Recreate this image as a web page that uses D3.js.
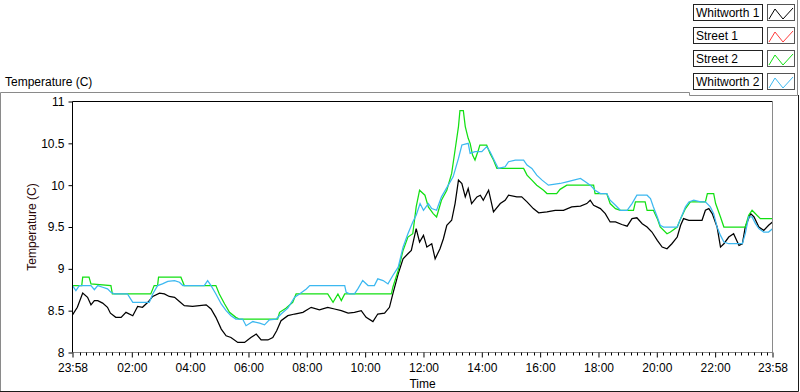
<!DOCTYPE html>
<html>
<head>
<meta charset="utf-8">
<script src="https://cdn.jsdelivr.net/npm/d3@7"></script>
<style>
  body { margin: 0; background: #fff; }
  svg { display: block; font-family: "Liberation Sans", Arial, sans-serif; font-size: 12px; }
</style>
</head>
<body>
<div id="chart"></div>
<script>
// legend entries, in plot order
var seriesNames = ["Whitworth 1", "Street 1", "Street 2", "Whitworth 2"];
var seriesColors = ["#000000", "#ff3c3c", "#12e012", "#3cb8f0"];

// readings as [minutes after midnight, temperature C]; -2 is 23:58 of the day before
var whitworth1 = [
  [-2, 8.45], [8, 8.54], [19, 8.71], [29, 8.66], [36, 8.57], [43, 8.62], [50, 8.62],
  [60, 8.59], [70, 8.54], [76, 8.47], [87, 8.42], [98, 8.42], [108, 8.48], [122, 8.44],
  [132, 8.55], [142, 8.54], [153, 8.60], [163, 8.67], [177, 8.71], [187, 8.70], [197, 8.67],
  [208, 8.66], [218, 8.61], [228, 8.56], [245, 8.55], [259, 8.56], [273, 8.57], [283, 8.52],
  [293, 8.42], [304, 8.28], [314, 8.20], [324, 8.18], [338, 8.12], [352, 8.12], [365, 8.18],
  [376, 8.22], [386, 8.15], [400, 8.15], [410, 8.18], [418, 8.26], [427, 8.38], [441, 8.44],
  [455, 8.46], [472, 8.48], [489, 8.54], [506, 8.51], [523, 8.54], [537, 8.52], [551, 8.50],
  [565, 8.47], [578, 8.48], [592, 8.50], [602, 8.42], [616, 8.37], [626, 8.46], [640, 8.47],
  [650, 8.54], [657, 8.70], [668, 8.94], [678, 9.12], [688, 9.18], [695, 9.22], [705, 9.48],
  [712, 9.32], [720, 9.40], [727, 9.26], [737, 9.30], [744, 9.12], [754, 9.24], [761, 9.36],
  [768, 9.52], [778, 9.58], [785, 9.78], [792, 10.06], [799, 10.02], [806, 9.86], [812, 9.96],
  [819, 9.78], [830, 9.86], [837, 9.88], [843, 9.82], [854, 9.94], [864, 9.68], [878, 9.78],
  [888, 9.82], [895, 9.88], [912, 9.86], [922, 9.86], [933, 9.80], [946, 9.72], [957, 9.67],
  [974, 9.68], [991, 9.70], [1008, 9.70], [1025, 9.74], [1043, 9.75], [1056, 9.78], [1063, 9.82],
  [1070, 9.76], [1084, 9.72], [1094, 9.66], [1104, 9.56], [1115, 9.56], [1128, 9.53], [1139, 9.51],
  [1149, 9.60], [1159, 9.61], [1170, 9.54], [1180, 9.50], [1190, 9.44], [1201, 9.34], [1211, 9.26],
  [1221, 9.24], [1231, 9.30], [1242, 9.38], [1249, 9.52], [1255, 9.60], [1266, 9.58], [1279, 9.58],
  [1293, 9.58], [1300, 9.70], [1307, 9.72], [1314, 9.66], [1324, 9.50], [1331, 9.26], [1338, 9.30],
  [1348, 9.38], [1358, 9.42], [1369, 9.28], [1376, 9.30], [1382, 9.50], [1393, 9.66], [1400, 9.62],
  [1410, 9.50], [1420, 9.46], [1430, 9.52], [1438, 9.56]
];
var street1 = []; // not visible in the picture
var street2 = [
  [-2, 8.8], [17, 8.8], [19, 8.9], [32, 8.9], [36, 8.82], [77, 8.8], [80, 8.7], [159, 8.7],
  [166, 8.8], [173, 8.8], [175, 8.9], [221, 8.9], [228, 8.8], [293, 8.8], [300, 8.7], [311, 8.58],
  [321, 8.48], [334, 8.42], [341, 8.4], [420, 8.4], [424, 8.48], [437, 8.53], [451, 8.6],
  [458, 8.7], [523, 8.7], [534, 8.6], [544, 8.7], [551, 8.62], [558, 8.7], [654, 8.7],
  [657, 8.78], [668, 8.98], [678, 9.22], [688, 9.38], [698, 9.42], [705, 9.74], [712, 9.94],
  [723, 9.88], [730, 9.74], [740, 9.66], [747, 9.62], [757, 9.82], [768, 9.94], [778, 10.14],
  [785, 10.42], [792, 10.70], [795, 10.89], [802, 10.89], [806, 10.70], [812, 10.56], [816, 10.50],
  [821, 10.36], [826, 10.30], [833, 10.42], [836, 10.48], [850, 10.48], [857, 10.38], [864, 10.30],
  [871, 10.2], [926, 10.2], [933, 10.12], [943, 10.06], [953, 10.0], [967, 9.94], [974, 9.9],
  [994, 9.9], [1001, 9.95], [1015, 10.0], [1070, 10.0], [1073, 9.9], [1097, 9.9], [1104, 9.78],
  [1115, 9.72], [1125, 9.7], [1152, 9.7], [1156, 9.8], [1176, 9.8], [1180, 9.7], [1193, 9.7],
  [1201, 9.6], [1207, 9.5], [1221, 9.42], [1228, 9.44], [1242, 9.5], [1249, 9.6], [1259, 9.72],
  [1269, 9.8], [1300, 9.8], [1304, 9.9], [1317, 9.9], [1321, 9.78], [1331, 9.62], [1338, 9.5],
  [1382, 9.5], [1389, 9.64], [1396, 9.7], [1406, 9.64], [1413, 9.6], [1438, 9.6]
];
var whitworth2 = [
  [-2, 8.8], [5, 8.74], [12, 8.8], [36, 8.8], [43, 8.75], [50, 8.8], [60, 8.78], [70, 8.76],
  [77, 8.72], [84, 8.7], [111, 8.7], [122, 8.6], [156, 8.6], [163, 8.7], [173, 8.8], [183, 8.82],
  [194, 8.85], [208, 8.86], [218, 8.84], [225, 8.8], [269, 8.8], [276, 8.86], [283, 8.8],
  [293, 8.7], [304, 8.58], [314, 8.5], [324, 8.44], [334, 8.4], [348, 8.4], [355, 8.32],
  [369, 8.37], [383, 8.35], [393, 8.33], [403, 8.39], [417, 8.4], [427, 8.46], [441, 8.53],
  [455, 8.66], [465, 8.7], [479, 8.76], [486, 8.8], [558, 8.8], [561, 8.72], [568, 8.7],
  [578, 8.7], [585, 8.76], [595, 8.86], [606, 8.8], [619, 8.8], [626, 8.88], [637, 8.86],
  [647, 8.82], [657, 8.92], [668, 9.02], [678, 9.26], [688, 9.42], [698, 9.56], [705, 9.64],
  [713, 9.78], [720, 9.70], [730, 9.78], [737, 9.72], [747, 9.70], [757, 9.86], [771, 10.0],
  [781, 10.10], [792, 10.32], [799, 10.48], [812, 10.5], [816, 10.38], [826, 10.4], [840, 10.4],
  [850, 10.46], [857, 10.4], [867, 10.28], [874, 10.2], [888, 10.22], [895, 10.28], [909, 10.3],
  [926, 10.3], [933, 10.24], [943, 10.2], [953, 10.12], [964, 10.06], [977, 10.0], [1001, 10.02],
  [1015, 10.04], [1029, 10.06], [1043, 10.08], [1053, 10.04], [1063, 10.0], [1073, 9.94],
  [1084, 9.9], [1097, 9.9], [1104, 9.82], [1115, 9.76], [1125, 9.7], [1139, 9.7], [1149, 9.78],
  [1159, 9.88], [1180, 9.88], [1187, 9.84], [1193, 9.74], [1201, 9.62], [1207, 9.52], [1214, 9.5],
  [1242, 9.5], [1249, 9.6], [1259, 9.74], [1266, 9.8], [1276, 9.82], [1290, 9.8], [1300, 9.8],
  [1310, 9.74], [1317, 9.66], [1324, 9.5], [1331, 9.40], [1338, 9.32], [1348, 9.3], [1376, 9.3],
  [1382, 9.42], [1389, 9.62], [1396, 9.62], [1403, 9.54], [1410, 9.48], [1420, 9.44], [1430, 9.44],
  [1438, 9.48]
];

// axis ticks
var timeTicks = [-2, 120, 240, 360, 480, 600, 720, 840, 960, 1080, 1200, 1320, 1438];
var timeLabels = ["23:58", "02:00", "04:00", "06:00", "08:00", "10:00", "12:00",
                  "14:00", "16:00", "18:00", "20:00", "22:00", "23:58"];
var tempTicks = [8, 8.5, 9, 9.5, 10, 10.5, 11];

var allSeries = [whitworth1, street1, street2, whitworth2];

var width = 800, height = 392;
var plot = {left: 72.5, top: 101.5, right: 772.5, bottom: 352.5};

var t0 = new Date(2000, 0, 2, 0, 0);
function toDate(m) { return new Date(t0.getTime() + m * 60000); }

var x = d3.scaleTime()
    .domain([toDate(timeTicks[0]), toDate(timeTicks[timeTicks.length - 1])])
    .range([plot.left, plot.right]);
var y = d3.scaleLinear().domain([8, 11]).range([plot.bottom, plot.top]);

var svg = d3.select("#chart").append("svg")
    .attr("width", width)
    .attr("height", height);

// outer panel frame (grey top/left, dark bottom/right)
svg.append("path")
    .attr("d", "M0.5,391 V92.5 H689.5 V95.5 H797.5 V0")
    .attr("fill", "none").attr("stroke", "#8a8a8a");
svg.append("path")
    .attr("d", "M798.5,95 V391.5 H0")
    .attr("fill", "none").attr("stroke", "#1a1a1a");

// graph label
svg.append("text")
    .attr("x", 5).attr("y", 86)
    .attr("fill", "#000")
    .text("Temperature (C)");

// the lines
var valueline = d3.line()
    .x(function(d) { return x(toDate(d[0])); })
    .y(function(d) { return y(d[1]); });

allSeries.forEach(function(s, i) {
    if (!s.length) return;
    svg.append("path")
        .datum(s)
        .attr("fill", "none")
        .attr("stroke", seriesColors[i])
        .attr("stroke-width", 1.25)
        .attr("d", valueline);
});

// plot border: dark top/left, grey right/bottom
svg.append("path")
    .attr("d", "M" + plot.left + "," + plot.bottom + " V" + plot.top + " H" + plot.right)
    .attr("fill", "none").attr("stroke", "#000");
svg.append("path")
    .attr("d", "M" + plot.right + "," + plot.top + " V" + plot.bottom + " H" + plot.left)
    .attr("fill", "none").attr("stroke", "#8a8a8a");

// x axis
var xAxis = svg.append("g")
    .attr("transform", "translate(0," + plot.bottom + ")")
    .call(d3.axisBottom(x)
        .tickValues(timeTicks.map(toDate))
        .tickFormat(function(d, i) { return timeLabels[i]; })
        .tickSize(5)
        .tickPadding(6));
xAxis.select(".domain").remove();
xAxis.attr("font-family", null).attr("font-size", null);
xAxis.selectAll("text").attr("fill", "#000");
xAxis.selectAll("line").attr("stroke", "#000");

// minor ticks: nine steps per two hours
var minorTicks = [];
for (var h = 0; h < 1440; h += 120) {
    for (var k = 1; k < 9; k++) minorTicks.push(h + k * 120 / 9);
}
svg.append("g").selectAll("line")
    .data(minorTicks)
    .enter().append("line")
    .attr("x1", function(d) { return Math.round(x(toDate(d))) + 0.5; })
    .attr("x2", function(d) { return Math.round(x(toDate(d))) + 0.5; })
    .attr("y1", plot.bottom)
    .attr("y2", plot.bottom + 3)
    .attr("stroke", "#000");

// y axis
var yAxis = svg.append("g")
    .attr("transform", "translate(" + plot.left + ",0)")
    .call(d3.axisLeft(y)
        .tickValues(tempTicks)
        .tickFormat(function(d) { return d; })
        .tickSize(4)
        .tickPadding(4));
yAxis.select(".domain").remove();
yAxis.attr("font-family", null).attr("font-size", null);
yAxis.selectAll("text").attr("fill", "#000");
yAxis.selectAll("line").attr("stroke", "#000");

// axis titles
svg.append("text")
    .attr("x", (plot.left + plot.right) / 2).attr("y", 388)
    .attr("text-anchor", "middle")
    .text("Time");
svg.append("text")
    .attr("transform", "translate(35.5," + (plot.top + plot.bottom) / 2 + ") rotate(-90)")
    .attr("text-anchor", "middle")
    .attr("fill", "#2a0808")
    .text("Temperature (C)");

// legend
var legend = svg.append("g").selectAll("g")
    .data(seriesNames)
    .enter().append("g")
    .attr("transform", function(d, i) { return "translate(0," + (4 + i * 23) + ")"; });
legend.append("rect")
    .attr("x", 693.5).attr("y", 0.5).attr("width", 69).attr("height", 16)
    .attr("fill", "#fff").attr("stroke", "#222");
legend.append("text")
    .attr("x", 696).attr("y", 13)
    .text(function(d) { return d; });
legend.append("rect")
    .attr("x", 767.5).attr("y", 0.5).attr("width", 27).attr("height", 16)
    .attr("fill", "#fff").attr("stroke", "#555");
legend.append("path")
    .attr("d", "M769,15 L775,5 L783,15 L793,4")
    .attr("fill", "none")
    .attr("stroke", function(d, i) { return seriesColors[i]; });
</script>
</body>
</html>
